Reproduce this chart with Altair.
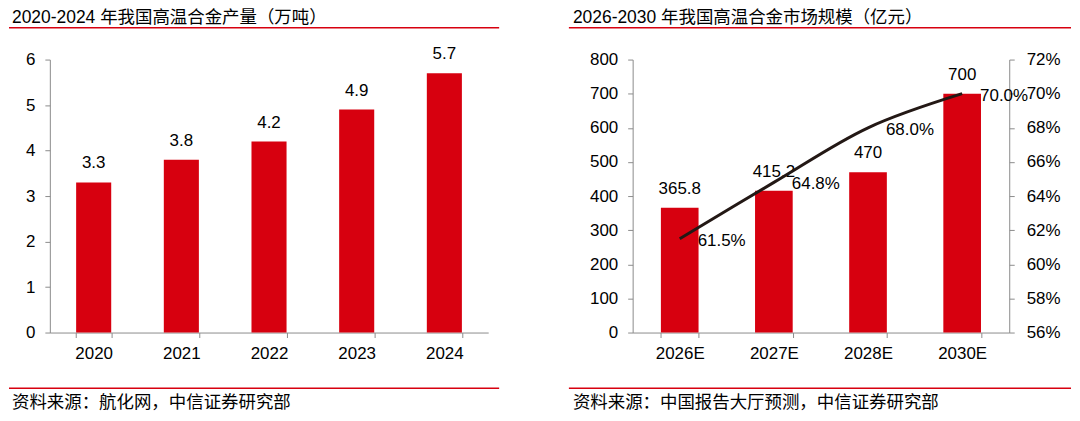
import altair as alt
import pandas as pd

# ---- data ----
years = ["2020", "2021", "2022", "2023", "2024"]
output = [3.3, 3.8, 4.2, 4.9, 5.7]

fc_years = ["2026E", "2027E", "2028E", "2030E"]
market = [365.8, 415.2, 470, 700]
share = [61.5, 64.8, 68.0, 70.0]

left_title = "2020-2024 年我国高温合金产量（万吨）"
right_title = "2026-2030 年我国高温合金市场规模（亿元）"
left_src = "资料来源：航化网，中信证券研究部"
right_src = "资料来源：中国报告大厅预测，中信证券研究部"

# ---- styles ----
RED = "#d7000f"
LINE = "#231815"
AX = "#8c8c8c"
NUM_FONT = "Liberation Sans"
CJK_FONT = "Liberation Sans, Noto Sans CJK SC"
FS = 17
H = 274
W1 = 440
W2 = 378

df1 = pd.DataFrame({"year": years, "v": output, "lab": [f"{v:g}" for v in output]})
df2 = pd.DataFrame({
    "year": fc_years,
    "m": market,
    "mlab": [f"{v:g}" for v in market],
    "s": share,
    "slab": [f"{v:.1f}%" for v in share],
})


def decor(title, src, x0, x1, tx):
    one = pd.DataFrame({"t": [title], "s": [src]})
    base = alt.Chart(one)
    t = base.mark_text(align="left", baseline="alphabetic", font=CJK_FONT,
                       fontSize=17.5, color="#000").encode(
        x=alt.value(tx), y=alt.value(-37), text="t:N")
    r1 = base.mark_rule(color=RED, strokeWidth=1.5).encode(
        x=alt.value(x0), x2=alt.value(x1), y=alt.value(-32))
    r2 = base.mark_rule(color=RED, strokeWidth=1.5).encode(
        x=alt.value(x0), x2=alt.value(x1), y=alt.value(H + 56))
    s = base.mark_text(align="left", baseline="alphabetic", font=CJK_FONT,
                       fontSize=17.5, color="#000").encode(
        x=alt.value(tx), y=alt.value(H + 76), text="s:N")
    return [t, r1, r2, s]


xaxis = alt.Axis(title=None, labelAngle=0, tickBand="extent", domainColor=AX,
                 tickColor=AX, tickSize=5, labelPadding=8, labelFont=NUM_FONT,
                 labelFontSize=FS, labelColor="#000", grid=False)

# ---- left panel ----
x1 = alt.X("year:N", sort=years, axis=xaxis,
           scale=alt.Scale(paddingInner=0.6, paddingOuter=0.3))
y1 = alt.Y("v:Q", scale=alt.Scale(domain=[0, 6]),
           axis=alt.Axis(title=None, values=[0, 1, 2, 3, 4, 5, 6], grid=False,
                         domainColor=AX, tickColor=AX, tickSize=5, labelPadding=10,
                         labelFont=NUM_FONT, labelFontSize=FS, labelColor="#000"))
bars1 = alt.Chart(df1).mark_bar(color=RED).encode(x=x1, y=y1)
labs1 = alt.Chart(df1).mark_text(baseline="bottom", dy=-10, font=NUM_FONT,
                                 fontSize=FS, color="#000").encode(x=x1, y=y1, text="lab:N")
left = alt.layer(bars1, labs1, *decor(left_title, left_src, -41, 451, -38)).properties(
    width=W1, height=H)

# ---- right panel ----
x2 = alt.X("year:N", sort=fc_years, axis=xaxis,
           scale=alt.Scale(paddingInner=0.6, paddingOuter=0.3))
yl = alt.Y("m:Q", scale=alt.Scale(domain=[0, 800]),
           axis=alt.Axis(title=None, values=list(range(0, 801, 100)), grid=False,
                         orient="left", domainColor=AX, tickColor=AX, tickSize=5,
                         labelPadding=10, labelFont=NUM_FONT, labelFontSize=FS,
                         labelColor="#000"))
raxis = alt.Axis(title=None, values=list(range(56, 73, 2)), grid=False, orient="right",
                 domainColor=AX, tickColor=AX, tickSize=5, labelPadding=12,
                 labelFont=NUM_FONT, labelFontSize=FS, labelColor="#000",
                 labelExpr="datum.value + '%'")
yr = alt.Y("s:Q", scale=alt.Scale(domain=[56, 72]), axis=raxis)

bars2 = alt.Chart(df2).mark_bar(color=RED).encode(x=x2, y=yl)
labs2 = alt.Chart(df2).mark_text(baseline="bottom", dy=-10, font=NUM_FONT,
                                 fontSize=FS, color="#000").encode(x=x2, y=yl, text="mlab:N")
line = alt.Chart(df2).mark_line(color=LINE, strokeWidth=3, interpolate="catmull-rom").encode(
    x=x2, y=yr)
slabs = alt.Chart(df2).mark_text(align="left", baseline="middle", dx=18, dy=2,
                                 font=NUM_FONT, fontSize=FS, color="#000").encode(
    x=x2, y=yr, text="slab:N")

right = alt.layer(
    alt.layer(bars2, labs2),
    alt.layer(line, slabs),
    *decor(right_title, right_src, -64, 440, -60),
).resolve_scale(y="independent").properties(width=W2, height=H)

chart = alt.hconcat(left, right, spacing=68).properties(padding=0).configure_view(
    stroke=None).configure_axis(grid=False)

chart.save("out.html", embed_options={"renderer": "svg", "actions": False})
